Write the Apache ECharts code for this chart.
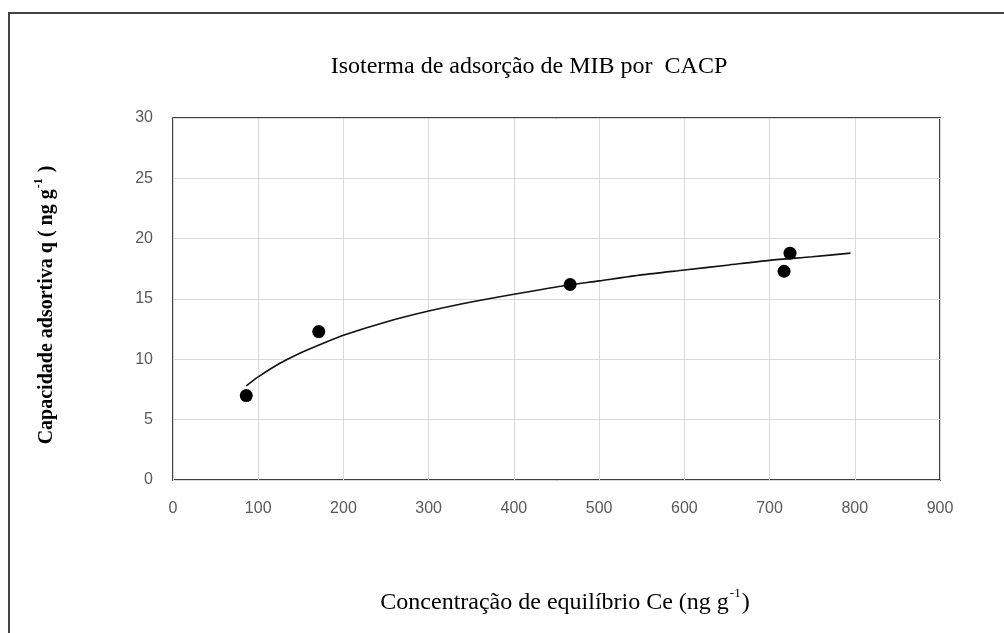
<!DOCTYPE html>
<html>
<head>
<meta charset="utf-8">
<script src="https://cdn.jsdelivr.net/npm/echarts@6/dist/echarts.min.js"></script>
<style>
  html, body { margin: 0; padding: 0; background: #ffffff; }
  #chart { width: 1004px; height: 633px; }
</style>
</head>
<body>
<div id="chart"></div>
<script>
// Measured equilibrium points
const ceValues = [86, 171, 466, 717, 724];
const qValues = [7.0, 12.3, 16.2, 17.3, 18.8];

// Logarithmic trendline, sampled along the drawn curve
const trendCe = [86, 100, 125, 150, 175, 200, 250, 300, 350, 400, 450, 500, 550, 600, 650, 700, 750, 795];
const trendQ = [7.8, 8.55, 9.65, 10.55, 11.3, 12.0, 13.1, 14.0, 14.75, 15.4, 16.0, 16.5, 17.0, 17.4, 17.8, 18.2, 18.5, 18.8];

const titleText = 'Isoterma de adsorção de MIB por  CACP';

const chart = echarts.init(document.getElementById('chart'));

chart.setOption({
  backgroundColor: '#ffffff',
  animation: false,
  grid: { left: 173, right: 64, top: 118, bottom: 153, show: true, borderColor: '#000000', borderWidth: 1.5 },
  xAxis: {
    type: 'value', min: 0, max: 900, interval: 100,
    axisLine: { show: false },
    axisTick: { show: false },
    axisLabel: { color: '#595959', fontFamily: 'Liberation Sans', fontSize: 16, margin: 21 },
    splitLine: { show: true, lineStyle: { color: '#d9d9d9', width: 1 } }
  },
  yAxis: {
    type: 'value', min: 0, max: 30, interval: 5,
    axisLine: { show: false },
    axisTick: { show: false },
    axisLabel: { color: '#595959', fontFamily: 'Liberation Sans', fontSize: 16, margin: 20 },
    splitLine: { show: true, lineStyle: { color: '#d9d9d9', width: 1 } }
  },
  graphic: [
    { type: 'rect', shape: { x: 9, y: 13, width: 1010, height: 640 }, style: { fill: 'none', stroke: '#444444', lineWidth: 2 }, z: 100 },
    { type: 'text', x: 529, y: 67, style: { text: titleText, font: '24px "Liberation Serif"', fill: '#000000', align: 'center', verticalAlign: 'middle' } },
    {
      type: 'text', x: 565, y: 601,
      style: {
        text: '{a|Concentração de equilíbrio Ce (ng g}{s|-1}{a|)}',
        align: 'center', verticalAlign: 'middle',
        rich: {
          a: { fontFamily: 'Liberation Serif', fontSize: 24, fill: '#000000', lineHeight: 27, verticalAlign: 'bottom' },
          s: { fontFamily: 'Liberation Serif', fontSize: 13, fill: '#000000', lineHeight: 27, verticalAlign: 'top', padding: [0, 1, 0, 1] }
        }
      }
    },
    {
      type: 'text', x: 45, y: 305, rotation: Math.PI / 2,
      style: {
        text: '{a|Capacidade adsortiva q ( ng g}{s|-1}{a| )}',
        align: 'center', verticalAlign: 'middle',
        rich: {
          a: { fontFamily: 'Liberation Serif', fontSize: 20, fontWeight: 'bold', fill: '#000000', lineHeight: 24, verticalAlign: 'bottom' },
          s: { fontFamily: 'Liberation Serif', fontSize: 12, fontWeight: 'bold', fill: '#000000', lineHeight: 24, verticalAlign: 'top', padding: [0, 1, 0, 1] }
        }
      }
    }
  ],
  series: [
    {
      type: 'line',
      data: trendCe.map((c, i) => [c, trendQ[i]]),
      smooth: 0.25,
      showSymbol: false,
      lineStyle: { color: '#111111', width: 1.6 },
      z: 2
    },
    {
      type: 'scatter',
      data: ceValues.map((c, i) => [c, qValues[i]]),
      symbol: 'circle',
      symbolSize: 13,
      itemStyle: { color: '#000000', opacity: 1 },
      z: 3
    }
  ]
});
</script>
</body>
</html>
